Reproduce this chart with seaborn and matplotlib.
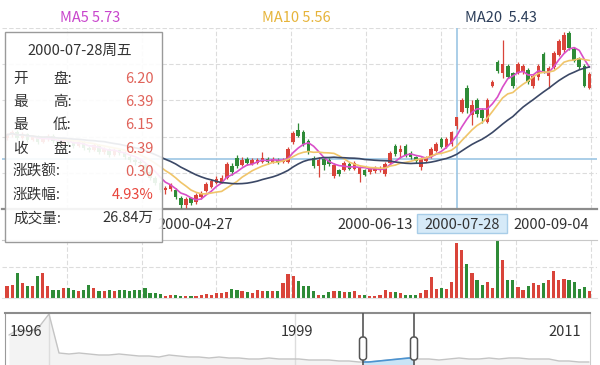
import numpy as np
import pandas as pd
import matplotlib
matplotlib.use("Agg")
import matplotlib.pyplot as plt
import seaborn as sns
from matplotlib.patches import Rectangle, FancyBboxPatch

# ========================================================
# DATA (daily K-line, 115 trading days, volume in 万手)
# ========================================================
opens = [5.97, 6.03, 6.09, 5.97, 6.05, 5.93, 5.99, 5.89, 5.95, 6.01,
         5.91, 5.85, 5.93, 5.87, 5.81, 5.89, 5.77, 5.73, 5.83, 5.69,
         5.75, 5.63, 5.73, 5.67, 5.59, 5.53, 5.49, 5.43, 5.29, 5.17,
         5.07, 4.93, 4.95, 4.93, 4.77, 4.63, 4.77, 4.69, 4.79, 4.91,
         4.99, 5.07, 5.09, 5.17, 5.41, 5.57, 5.43, 5.55, 5.45, 5.47,
         5.49, 5.55, 5.49, 5.53, 5.49, 5.49, 5.89, 6.13, 6.09, 5.91,
         5.57, 5.41, 5.55, 5.53, 5.21, 5.33, 5.33, 5.45, 5.35, 5.25,
         5.33, 5.29, 5.31, 5.33, 5.25, 5.47, 5.81, 5.69, 5.81, 5.67,
         5.59, 5.39, 5.51, 5.59, 5.71, 5.95, 5.79, 5.85, 6.20, 6.49,
         6.97, 6.43, 6.73, 6.53, 6.29, 7.01, 7.49, 7.27, 7.41, 7.27,
         7.27, 7.29, 7.33, 7.01, 7.19, 7.65, 7.21, 7.39, 7.63, 7.73,
         8.07, 7.75, 7.57, 7.41, 6.97]
closes = [6.03, 6.09, 5.97, 6.05, 5.93, 5.99, 5.89, 5.95, 6.01, 5.91,
          5.85, 5.93, 5.87, 5.81, 5.89, 5.77, 5.73, 5.83, 5.69, 5.75,
          5.63, 5.73, 5.67, 5.59, 5.53, 5.49, 5.47, 5.29, 5.17, 5.07,
          4.93, 4.97, 5.03, 4.79, 4.63, 4.75, 4.67, 4.83, 4.87, 5.05,
          5.11, 5.15, 5.17, 5.45, 5.29, 5.41, 5.53, 5.47, 5.53, 5.53,
          5.57, 5.49, 5.55, 5.49, 5.53, 5.75, 6.07, 6.01, 5.85, 5.69,
          5.41, 5.53, 5.43, 5.45, 5.43, 5.25, 5.47, 5.35, 5.47, 5.37,
          5.23, 5.35, 5.37, 5.37, 5.45, 5.67, 5.65, 5.75, 5.61, 5.59,
          5.51, 5.55, 5.57, 5.75, 5.85, 5.79, 5.95, 6.09, 6.39, 6.73,
          6.57, 6.63, 6.45, 6.37, 6.73, 7.09, 7.31, 7.45, 7.19, 7.01,
          7.45, 7.41, 7.09, 7.21, 7.41, 7.31, 7.37, 7.67, 7.91, 8.03,
          7.77, 7.51, 7.39, 7.01, 7.25]
highs = [6.07, 6.13, 6.13, 6.09, 6.07, 6.03, 6.03, 5.99, 6.05, 6.05,
         5.95, 5.97, 5.95, 5.91, 5.93, 5.91, 5.81, 5.87, 5.85, 5.79,
         5.77, 5.77, 5.75, 5.71, 5.63, 5.57, 5.53, 5.47, 5.33, 5.21,
         5.11, 5.01, 5.07, 4.97, 4.81, 4.79, 4.79, 4.87, 4.91, 5.09,
         5.15, 5.21, 5.23, 5.49, 5.47, 5.63, 5.59, 5.59, 5.57, 5.57,
         5.69, 5.59, 5.59, 5.57, 5.57, 5.79, 6.11, 6.27, 6.13, 5.95,
         5.61, 5.59, 5.59, 5.57, 5.47, 5.35, 5.51, 5.49, 5.51, 5.41,
         5.35, 5.39, 5.41, 5.41, 5.49, 5.71, 5.85, 5.83, 5.85, 5.71,
         5.61, 5.59, 5.61, 5.79, 5.89, 5.99, 5.99, 6.11, 6.39, 6.77,
         7.03, 6.73, 6.77, 6.57, 6.77, 7.13, 7.53, 7.93, 7.45, 7.29,
         7.49, 7.45, 7.37, 7.25, 7.45, 7.69, 7.41, 7.71, 7.95, 8.09,
         8.11, 7.79, 7.59, 7.45, 7.29]
lows = [5.93, 5.99, 5.93, 5.95, 5.89, 5.91, 5.85, 5.87, 5.91, 5.87,
        5.81, 5.83, 5.83, 5.77, 5.79, 5.73, 5.69, 5.71, 5.65, 5.65,
        5.59, 5.61, 5.63, 5.55, 5.49, 5.43, 5.41, 5.25, 5.13, 5.03,
        4.89, 4.85, 4.91, 4.75, 4.57, 4.57, 4.63, 4.65, 4.75, 4.89,
        4.97, 5.05, 5.07, 5.15, 5.23, 5.37, 5.41, 5.43, 5.43, 5.45,
        5.47, 5.45, 5.47, 5.45, 5.47, 5.47, 5.85, 5.99, 5.81, 5.65,
        5.37, 5.19, 5.33, 5.41, 5.17, 5.21, 5.31, 5.33, 5.33, 5.09,
        5.21, 5.25, 5.27, 5.29, 5.21, 5.45, 5.61, 5.57, 5.59, 5.55,
        5.47, 5.33, 5.49, 5.57, 5.69, 5.77, 5.77, 5.81, 6.15, 6.47,
        6.47, 6.23, 6.39, 6.27, 6.27, 6.99, 7.27, 7.17, 7.17, 6.97,
        7.25, 7.25, 7.05, 6.97, 7.13, 7.27, 6.97, 7.35, 7.61, 7.67,
        7.73, 7.49, 7.35, 6.99, 6.95]
volumes = [5.7, 6.5, 12.2, 7.3, 5.7, 5.7, 10.7, 12.2, 6.0, 4.1,
           3.8, 4.9, 4.9, 3.8, 3.3, 3.8, 6.5, 4.9, 3.3, 3.3,
           4.1, 3.3, 3.8, 4.1, 3.3, 3.8, 3.8, 4.9, 2.4, 2.4,
           2.0, 0.8, 1.6, 1.3, 0.8, 0.8, 0.8, 0.8, 1.6, 2.1,
           1.6, 2.4, 2.4, 2.8, 4.4, 4.1, 3.3, 2.8, 2.4, 4.1,
           3.3, 3.3, 3.3, 3.3, 7.3, 11.7, 10.6, 8.1, 6.0, 6.0,
           3.6, 1.6, 1.6, 2.8, 3.3, 3.3, 2.8, 2.8, 3.6, 1.6,
           1.3, 0.8, 0.8, 1.6, 4.1, 2.8, 2.8, 2.4, 1.6, 1.6,
           1.6, 2.4, 4.1, 10.1, 4.4, 4.9, 4.4, 7.7, 26.84, 23.3,
           16.6, 12.2, 8.9, 6.5, 7.7, 4.9, 28.2, 18.4, 8.9, 8.9,
           5.4, 3.8, 6.0, 7.3, 6.5, 7.3, 8.9, 13.0, 8.9, 9.4,
           8.9, 7.7, 4.4, 5.4, 3.3]

date_labels = ["2000-04-27", "2000-06-13", "2000-09-04"]
date_idx = [36.8, 72, 106.5]
cross_idx = 88
cross_date = "2000-07-28"
cross_price = 5.55

ma_names = ["MA5", "MA10", "MA20"]
ma_values = ["5.73", "5.56", "5.43"]

tip_title = "2000-07-28周五"
tip_labels = ["开盘", "最高", "最低", "收盘", "涨跌额", "涨跌幅", "成交量"]
tip_values = ["6.20", "6.39", "6.15", "6.39", "0.30", "4.93%", "26.84万"]

# navigator: long history line (height above panel bottom)
nav_values = [30, 36, 33, 38, 51, 12, 11, 12, 11, 10,
              10, 11, 10, 9, 9, 8, 10, 9, 8, 8,
              7, 8, 7, 7, 6, 6, 7, 6, 6, 6,
              5, 5, 5, 4, 4, 3, 3, 4, 5, 6,
              7, 6, 6, 5, 6, 7, 6, 6, 7, 6,
              7, 7, 6, 6, 6, 4, 4, 3, 3]
nav_years = ["1996", "1999", "2011"]
nav_year_idx = [1.7, 28.8, 55.6]
nav_sep_idx = [4.0, 28.6]
nav_sel = (35.4, 40.5)

# ========================================================
# STYLE
# ========================================================
UP = "#d9443a"
DOWN = "#2e8b37"
MA_COLORS = ["#d94fc9", "#f0c56a", "#3b4866"]
MA_TEXT = ["#c845cc", "#e6b43a", "#2c3e5a"]
GRID = "#dcdcdc"
CROSS = "#9cc6e4"
TXT = "#333333"

sns.set_style("white")
plt.rcParams["font.family"] = ["Noto Sans CJK SC", "DejaVu Sans"]

df = pd.DataFrame({"open": opens, "close": closes, "high": highs,
                   "low": lows, "vol": volumes})
df["i"] = np.arange(len(df))
df["dir"] = np.where(df["close"] >= df["open"], "up", "down")
for n in (5, 10, 20):
    df[f"ma{n}"] = df["close"].rolling(n, min_periods=1).mean()

W, H = 600, 365
fig = plt.figure(figsize=(W / 100, H / 100), dpi=100)

def px_axes(x0, y0, x1, y1, **kw):
    return fig.add_axes([x0 / W, 1 - y1 / H, (x1 - x0) / W, (y1 - y0) / H], **kw)

XLIM = (-0.98, 115.47)
grid_x = np.arange(11.7, 116, 14.65)

# ---------------- price panel ----------------
ax = px_axes(2, 28, 597, 209)
ax.set_xlim(*XLIM)
ax.set_ylim(4.55, 8.17)
ax.set_xticks(grid_x)
ax.set_yticks(np.linspace(8.17, 5.27, 5))
ax.grid(True, color=GRID, lw=0.8, ls=(0, (4, 2)))
ax.tick_params(length=0, labelbottom=False, labelleft=False)
for s in ("top", "left", "right"):
    ax.spines[s].set_visible(False)
ax.spines["bottom"].set_color("#8c8c8c")
ax.spines["bottom"].set_linewidth(1.6)

ax.axvline(cross_idx, color=CROSS, lw=1.2, zorder=2)
ax.axhline(cross_price, color=CROSS, lw=1.2, zorder=2)

cols = np.where(df["dir"] == "up", UP, DOWN)
ax.vlines(df["i"], df["low"], df["high"], colors=cols, lw=0.9, zorder=3)
body_lo = np.minimum(df["open"], df["close"])
body_h = np.maximum((df["close"] - df["open"]).abs(), 0.02)
ax.bar(df["i"], body_h, bottom=body_lo, width=0.7, color=cols, lw=0, zorder=4)

for n, c in zip((5, 10, 20), MA_COLORS):
    sns.lineplot(data=df, x="i", y=f"ma{n}", color=c, lw=1.2, ax=ax, zorder=5)
ax.set_xlabel("")
ax.set_ylabel("")
ax.set_xlim(*XLIM)
ax.set_ylim(4.55, 8.17)

xt = ax.get_xaxis_transform()
for lab, idx in zip(date_labels, date_idx):
    ax.text(idx, -0.088, lab, transform=xt, ha="center", va="center",
            fontsize=10.5, color=TXT, clip_on=False)
ax.add_patch(Rectangle((cross_idx + 1.0 - 8.8, -0.133), 17.6, 0.105,
                       transform=xt, facecolor="#d6eaf8", edgecolor="#a8cde8",
                       lw=1, clip_on=False, zorder=6))
ax.text(cross_idx + 1.0, -0.088, cross_date, transform=xt, ha="center",
        va="center", fontsize=10.5, color=TXT, clip_on=False, zorder=7)

# ---------------- volume panel ----------------
axv = px_axes(2, 240, 597, 298)
sns.barplot(data=df, x="i", y="vol", hue="dir", palette={"up": UP, "down": DOWN},
            native_scale=True, dodge=False, width=0.62, errorbar=None,
            legend=False, saturation=1, linewidth=0, ax=axv)
axv.set_xlim(*XLIM)
axv.set_ylim(0, 28.3)
axv.set_xticks(grid_x)
axv.set_yticks([15.1])
axv.grid(True, color=GRID, lw=0.8, ls=(0, (4, 2)))
axv.set_axisbelow(True)
axv.tick_params(length=0, labelbottom=False, labelleft=False)
axv.set_xlabel("")
axv.set_ylabel("")
for s in ("left", "right"):
    axv.spines[s].set_visible(False)
axv.spines["top"].set_color("#c8c8c8")
axv.spines["bottom"].set_color("#e2e2e2")

# ---------------- navigator ----------------
axn = px_axes(5, 313, 590, 365)
nav = pd.DataFrame({"k": np.arange(len(nav_values)), "v": nav_values})
axn.fill_between(nav["k"], 0, nav["v"], color="#f3f3f3", lw=0)
sns.lineplot(data=nav, x="k", y="v", color="#c4c4c4", lw=1.0, ax=axn)
ks = np.linspace(nav_sel[0], nav_sel[1], 30)
vs = np.interp(ks, nav["k"], nav["v"])
axn.fill_between(ks, 0, vs, color="#c9e4f6", lw=0, zorder=3)
axn.plot(ks, vs, color="#4b93d1", lw=1.2, zorder=4)
axn.set_xlim(-0.4, 58.1)
axn.set_ylim(0, 52)
axn.set_xlabel("")
axn.set_ylabel("")
axn.set_xticks([])
axn.set_yticks([])
for k in nav_sep_idx:
    axn.axvline(k, color="#dddddd", lw=1, zorder=1)
for lab, k in zip(nav_years, nav_year_idx):
    axn.text(k, 0.64, lab, transform=axn.get_xaxis_transform(), ha="center",
             va="center", fontsize=10.5, color=TXT)
axn.spines["top"].set_color("#8c8c8c")
axn.spines["top"].set_linewidth(1.5)
axn.spines["left"].set_color("#9a9a9a")
axn.spines["right"].set_color("#cccccc")
axn.spines["bottom"].set_visible(False)
nt = axn.get_xaxis_transform()
for k in nav_sel:
    axn.axvline(k, color="#555555", lw=1.2, zorder=5)
    axn.add_patch(FancyBboxPatch((k - 0.35, 0.096), 0.7, 0.442,
                                 boxstyle="round,pad=0,rounding_size=0.3",
                                 mutation_aspect=0.19, transform=nt,
                                 facecolor="white", edgecolor="#555555",
                                 lw=1.1, zorder=6))

# ---------------- overlay: MA header + tooltip ----------------
axo = fig.add_axes([0, 0, 1, 1], zorder=10)
axo.set_xlim(0, W)
axo.set_ylim(H, 0)
axo.axis("off")
axo.patch.set_alpha(0)

for name, val, c, x in zip(ma_names, ma_values, MA_TEXT, (60, 262, 465)):
    gap = "  " if name == "MA20" else " "
    axo.text(x, 18, f"{name}{gap}{val}", color=c, fontsize=10.5,
             ha="left", va="center")

axo.add_patch(Rectangle((5, 32), 157, 210, facecolor=(1, 1, 1, 0.9),
                        edgecolor="#9a9a9a", lw=1.0))
axo.text(80, 51, tip_title, ha="center", va="center", fontsize=10.5, color=TXT)
val_colors = ["#e0635a"] * 5 + ["#e8453c", TXT]
for k, (lab, val, vc) in enumerate(zip(tip_labels, tip_values, val_colors)):
    y = 79 + 23.2 * k
    if len(lab) == 2:
        axo.text(13, y, lab[0], ha="left", va="center", fontsize=10.5, color=TXT)
        axo.text(53, y, lab[1] + ":", ha="left", va="center", fontsize=10.5, color=TXT)
    else:
        axo.text(13, y, lab + ":", ha="left", va="center", fontsize=10.5, color=TXT)
    axo.text(154, y, val, ha="right", va="center", fontsize=10.5, color=vc)

fig.savefig("out.png", dpi=100)
